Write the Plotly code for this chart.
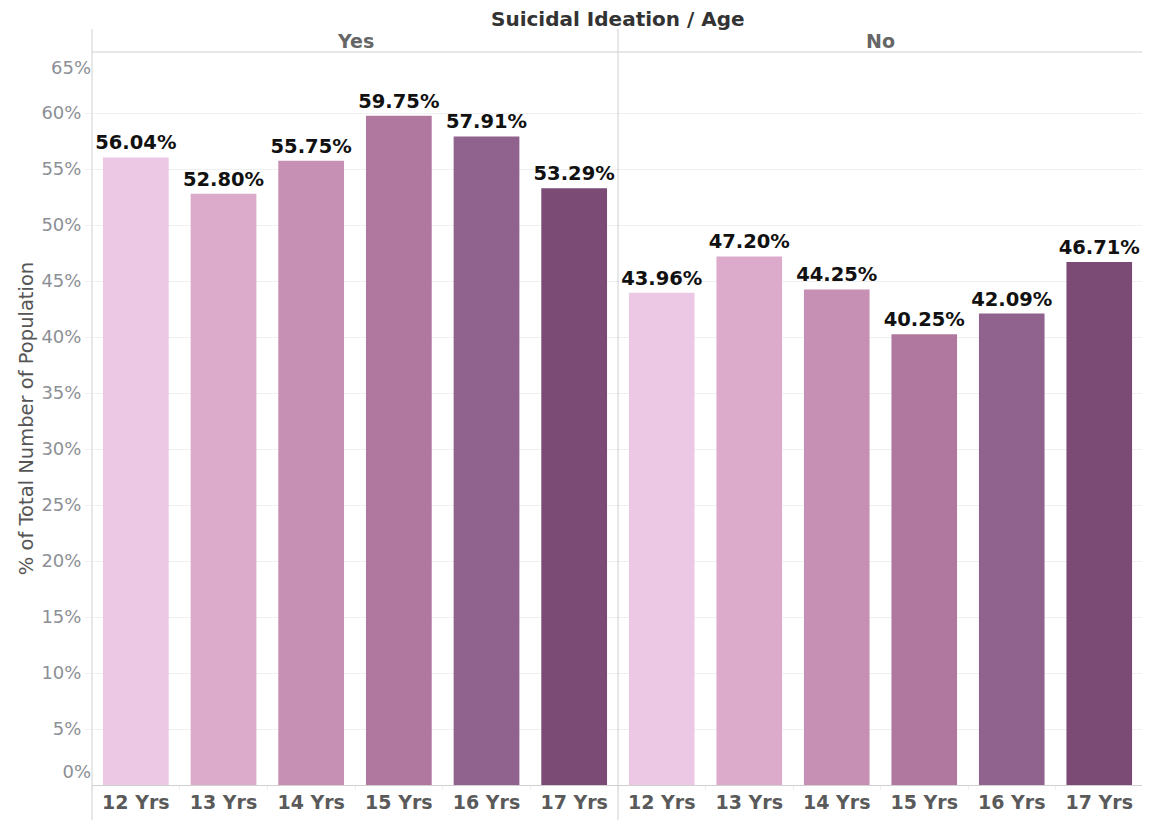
import plotly.graph_objects as go

ages = ["12 Yrs", "13 Yrs", "14 Yrs", "15 Yrs", "16 Yrs", "17 Yrs"]
yes_vals = [56.04, 52.80, 55.75, 59.75, 57.91, 53.29]
no_vals = [43.96, 47.20, 44.25, 40.25, 42.09, 46.71]
colors = ["#ECC8E4", "#DCABCB", "#C68FB4", "#B0789F", "#90628E", "#7B4B76"]
panels = ["Yes", "No"]
y_ticks_mid = [5, 10, 15, 20, 25, 30, 35, 40, 45, 50, 55, 60]
y_tick_low = [0]
y_tick_high = [65]

# page body has an 8px margin, so figure is 8px smaller than the window
W, H = 1142, 812
L, R, T, B = 84, 7, 44, 35
FONT = "DejaVu Sans"

fig = go.Figure()
for i, (vals, xa) in enumerate([(yes_vals, "x"), (no_vals, "x2")]):
    fig.add_trace(go.Bar(
        x=ages, y=vals, xaxis=xa, yaxis="y" if i == 0 else "y2",
        marker=dict(color=colors, line=dict(width=0)),
        width=0.75,
        text=[f"{v:.2f}%" for v in vals],
        textposition="outside",
        constraintext="none",
        textfont=dict(family=FONT, size=19.5, color="#111111", weight="bold"),
        cliponaxis=False,
        showlegend=False,
    ))

split = (610 - L) / (W - L - R)
axis_common = dict(
    type="category", showgrid=False, zeroline=False,
    showline=True, linecolor="#d0d0d0", linewidth=1,
    tickfont=dict(family=FONT, size=19, color="#5a5a5a", weight="bold"),
    ticks="outside", tickson="boundaries", ticklen=4, tickcolor="#eeeeee",
    fixedrange=True,
)
RANGE = [0, 65.45]
tick_font = dict(family=FONT, size=18, color="#8d8f96")
fig.update_layout(
    width=W, height=H,
    margin=dict(l=L, r=R, t=T, b=B),
    plot_bgcolor="white", paper_bgcolor="white",
    xaxis=dict(domain=[0, split], **axis_common),
    xaxis2=dict(domain=[split, 1], anchor="y2", **axis_common),
    yaxis=dict(
        range=RANGE, showgrid=True, gridcolor="#f0f0f0", gridwidth=1,
        zeroline=False, tickvals=y_ticks_mid, ticktext=[f"{t}%" for t in y_ticks_mid],
        ticks="outside", ticklen=6, tickcolor="#f0f0f0",
        showline=False, fixedrange=True, tickfont=tick_font,
        title=dict(text="% of Total Number of Population",
                   font=dict(family=FONT, size=19.5, color="#555555"), standoff=2),
    ),
    yaxis2=dict(range=RANGE, showgrid=True, gridcolor="#f0f0f0", zeroline=False,
                tickvals=y_ticks_mid, anchor="x2", matches="y",
                showticklabels=False, fixedrange=True),
    yaxis3=dict(range=RANGE, overlaying="y", matches="y", anchor="x", side="left",
                showgrid=False, zeroline=False, tickvals=y_tick_low,
                ticktext=[f"{t}%" for t in y_tick_low], ticklabelshift=-13,
                ticks="", tickfont=tick_font, fixedrange=True),
    yaxis4=dict(range=RANGE, overlaying="y", matches="y", anchor="x", side="left",
                showgrid=False, zeroline=False, tickvals=y_tick_high,
                ticktext=[f"{t}%" for t in y_tick_high], ticklabelshift=11,
                ticks="", tickfont=tick_font, fixedrange=True),
)
# dummy traces so the extra axes render
for ya in ["y3", "y4"]:
    fig.add_trace(go.Scatter(x=[ages[0]], y=[None], xaxis="x", yaxis=ya,
                             mode="markers", showlegend=False, hoverinfo="skip"))

ph = (H - T - B)
line = dict(color="#d0d0d0", width=1)
shapes = [
    dict(type="line", xref="paper", yref="paper", x0=0, x1=1, y0=1, y1=1, line=line),
    dict(type="line", xref="paper", yref="paper", x0=0, x1=0, y0=-B / ph, y1=1 + 23 / ph, line=line),
    dict(type="line", xref="paper", yref="paper", x0=split, x1=split, y0=-B / ph, y1=1 + 23 / ph, line=line),
    dict(type="line", xref="paper", yref="paper", x0=1, x1=1, y0=0, y1=1 + 23 / ph, line=line),
]
fig.update_layout(shapes=shapes)

annotations = [
    dict(text="Suicidal Ideation / Age", xref="paper", yref="paper",
         x=split, y=1 + 33 / ph, xanchor="center", yanchor="middle", showarrow=False,
         font=dict(family=FONT, size=20, color="#333333", weight="bold")),
]
for name, cx in zip(panels, [split / 2, (split + 1) / 2]):
    annotations.append(dict(text=name, xref="paper", yref="paper", x=cx, y=1 + 11 / ph,
                            xanchor="center", yanchor="middle", showarrow=False,
                            font=dict(family=FONT, size=19, color="#666666", weight="bold")))
fig.update_layout(annotations=annotations)

fig.write_html("out.html")
